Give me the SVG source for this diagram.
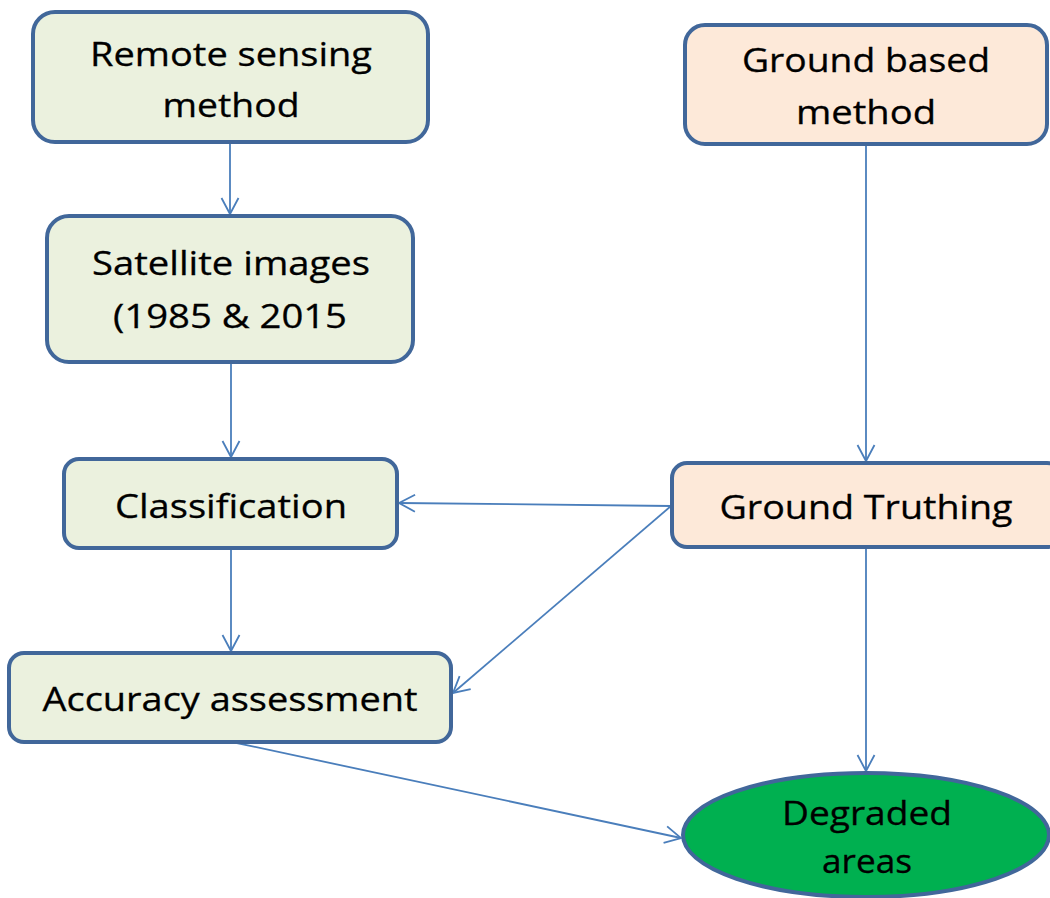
<svg xmlns="http://www.w3.org/2000/svg" width="1050" height="898" viewBox="0 0 1050 898">
<defs>
<style>
.box{stroke:#41679a;stroke-width:4}
.g{fill:#ebf1de}
.p{fill:#fde9d9}
.e{fill:#00b050}
.t{font-family:"Open Sans","Noto Sans","Liberation Sans",sans-serif;font-size:33px;fill:#000;text-anchor:middle;stroke:#000;stroke-width:0.3}
.c{stroke:#4a7ebb;stroke-width:1.8;fill:none;marker-end:url(#arr)}
</style>
<marker id="arr" viewBox="0 0 22 22" refX="20" refY="11" markerWidth="22" markerHeight="22" markerUnits="userSpaceOnUse" orient="auto">
<path d="M4,2.5 L20,11 L4,19.5" fill="none" stroke="#4a7ebb" stroke-width="1.8"/>
</marker>
</defs>
<rect width="1050" height="898" fill="#fff"/>
<g id="connectors">
<line class="c" x1="230" y1="144" x2="230" y2="214"/>
<line class="c" x1="231" y1="364" x2="231" y2="457"/>
<line class="c" x1="231" y1="549" x2="231" y2="651"/>
<line class="c" x1="866" y1="145" x2="866" y2="461"/>
<line class="c" x1="671" y1="506" x2="399" y2="503"/>
<line class="c" x1="671" y1="506" x2="453" y2="693"/>
<line class="c" x1="866" y1="548" x2="866" y2="771"/>
<line class="c" x1="232" y1="742" x2="681" y2="838"/>
</g>
<g id="remote">
<rect class="box g" x="33" y="12" width="395" height="130" rx="22"/>
<text class="t" x="231" y="66" textLength="282" lengthAdjust="spacingAndGlyphs">Remote sensing</text>
<text class="t" x="231" y="117" textLength="137" lengthAdjust="spacingAndGlyphs">method</text>
</g>
<g id="ground">
<rect class="box p" x="685" y="25" width="362" height="119" rx="20"/>
<text class="t" x="866" y="72" textLength="248" lengthAdjust="spacingAndGlyphs">Ground based</text>
<text class="t" x="866" y="124" textLength="140" lengthAdjust="spacingAndGlyphs">method</text>
</g>
<g id="satellite">
<rect class="box g" x="47" y="216" width="366" height="146" rx="22"/>
<text class="t" x="231" y="275" textLength="278" lengthAdjust="spacingAndGlyphs">Satellite images</text>
<text class="t" x="230" y="328" textLength="234" lengthAdjust="spacingAndGlyphs">(1985 &amp; 2015</text>
</g>
<g id="classification">
<rect class="box g" x="64" y="459" width="333" height="89" rx="15"/>
<text class="t" x="231" y="518" textLength="232" lengthAdjust="spacingAndGlyphs">Classification</text>
</g>
<g id="truthing">
<rect class="box p" x="672" y="463" width="390" height="84" rx="15"/>
<text class="t" x="866" y="519" textLength="293" lengthAdjust="spacingAndGlyphs">Ground Truthing</text>
</g>
<g id="accuracy">
<rect class="box g" x="9" y="653" width="442" height="89" rx="15"/>
<text class="t" x="230" y="711" textLength="375" lengthAdjust="spacingAndGlyphs">Accuracy assessment</text>
</g>
<g id="degraded">
<ellipse class="box e" cx="866" cy="835" rx="183" ry="62"/>
<text class="t" x="867" y="825" textLength="170" lengthAdjust="spacingAndGlyphs">Degraded</text>
<text class="t" x="867" y="873" textLength="90" lengthAdjust="spacingAndGlyphs">areas</text>
</g>
</svg>
